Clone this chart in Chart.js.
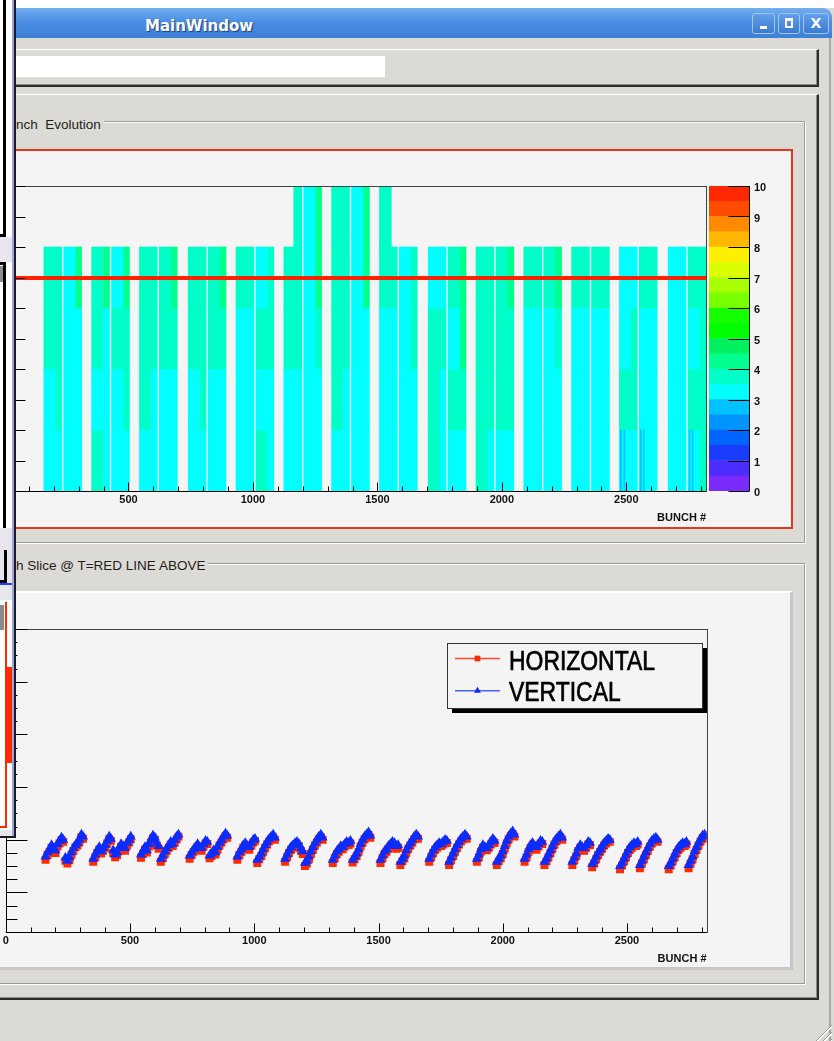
<!DOCTYPE html>
<html>
<head>
<meta charset="utf-8">
<title>MainWindow</title>
<script src="https://cdn.jsdelivr.net/npm/chart.js@4.4.1/dist/chart.umd.min.js"></script>
<style>
  html, body { margin: 0; padding: 0; }
  body { width: 834px; height: 1041px; position: relative; overflow: hidden; background: #dcdad5; font-family: "Liberation Sans", Arial, sans-serif; }
  .abs { position: absolute; box-sizing: border-box; }
  .btn { position: absolute; top: 13px; height: 21px; box-sizing: border-box; border: 1px solid #a4c4ee; border-radius: 3px; background: linear-gradient(#62a0e8, #3b7bd2); }
  .glabel { position: absolute; left: 16px; height: 16px; line-height: 16px; padding-right: 3px; background: #dcdad5; font-size: 13.5px; color: #1e1e1e; white-space: pre; }
  canvas { position: absolute; }
</style>
</head>
<body>

<!-- window decoration -->
<div class="abs" style="left:0;top:0;width:834px;height:8px;background:#fff"></div>
<div class="abs" style="left:0;top:8px;width:832px;height:30px;border-top-right-radius:9px;background:linear-gradient(#72aef0,#4b8fe3 45%,#3d7fd6)"></div>
<div class="abs" style="left:145px;top:17px;line-height:15px;font:bold 15px 'DejaVu Sans';color:#fff;text-shadow:1px 1px 1px #1c3f78">MainWindow</div>
<div class="btn" style="left:752px;width:23px"><div class="abs" style="left:7px;top:12px;width:7px;height:3px;background:#fff"></div></div>
<div class="btn" style="left:778px;width:22px"><div class="abs" style="left:6px;top:4px;width:8px;height:10px;border:2px solid #fff;border-top-width:3px"></div></div>
<div class="btn" style="left:803px;width:26px;text-align:center;font:bold 14px 'DejaVu Sans';line-height:19px;color:#fff">X</div>
<div class="abs" style="left:829px;top:38px;width:2px;height:1003px;background:#a9a7a1"></div>

<!-- tool bar with text entry -->
<div class="abs" style="left:-2px;top:49px;width:821px;height:38px;border-top:1px solid #fff;border-right:2px solid #2c2c2c;border-bottom:2px solid #2c2c2c;box-shadow:inset -1px -1px 0 #8e8c88"></div>
<div class="abs" style="left:0;top:56px;width:385px;height:21px;background:#fff"></div>

<!-- outer frame -->
<div class="abs" style="left:-2px;top:94px;width:821px;height:906px;border-top:1px solid #fff;border-right:2px solid #2c2c2c;border-bottom:2px solid #2c2c2c;box-shadow:inset -1px -1px 0 #8e8c88"></div>

<!-- group 1 -->
<div class="abs" style="left:-2px;top:121px;width:807px;height:422px;border:1px solid #9c9a96;box-shadow:inset 1px 1px 0 #fff,1px 1px 0 #fff"></div>
<div class="glabel" style="top:117px">nch  Evolution</div>
<div class="abs" style="left:-2px;top:149px;width:795px;height:380px;border:2px solid #e5371f;background:#f4f4f4"></div>
<canvas id="evo" width="791" height="376" style="left:0;top:151px"></canvas>
<canvas id="pal" width="80" height="325" style="left:700px;top:176px"></canvas>

<!-- group 2 -->
<div class="abs" style="left:-2px;top:563px;width:807px;height:421px;border:1px solid #9c9a96;box-shadow:inset 1px 1px 0 #fff,1px 1px 0 #fff"></div>
<div class="glabel" style="top:558px">h Slice @ T=RED LINE ABOVE</div>
<div class="abs" style="left:-2px;top:591px;width:795px;height:379px;background:#f4f4f4;border-top:2px solid #fff;border-right:3px solid #c6c6c4;border-bottom:3px solid #c6c6c4"></div>
<canvas id="slice" width="790" height="374" style="left:0;top:593px"></canvas>

<!-- resize grip -->
<div class="abs" style="left:814px;top:1024px;width:18px;height:17px;clip-path:polygon(100% 0,100% 100%,0 100%);background:repeating-linear-gradient(135deg,transparent 0 3px,#9a988f 3px 4px,#fff 4px 5px)"></div>

<!-- other windows overlapping the left edge -->
<div class="abs" style="left:0;top:0;width:16px;height:838px;background:#e6e6ec;z-index:5">
  <div class="abs" style="left:0;top:0;width:12px;height:237px;background:#fff"></div>
  <div class="abs" style="left:3px;top:0;width:3px;height:237px;background:#000"></div>
  <div class="abs" style="left:0;top:234px;width:6px;height:3px;background:#000"></div>
  <div class="abs" style="left:0;top:262px;width:12px;height:266px;background:#fff"></div>
  <div class="abs" style="left:3px;top:262px;width:3px;height:266px;background:#000"></div>
  <div class="abs" style="left:0;top:262px;width:6px;height:3px;background:#000"></div>
  <div class="abs" style="left:0;top:266px;width:3px;height:16px;background:#8c8c8c"></div>
  <div class="abs" style="left:4px;top:550px;width:3px;height:33px;background:#000"></div>
  <div class="abs" style="left:0;top:580px;width:7px;height:3px;background:#000"></div>
  <div class="abs" style="left:0;top:583px;width:12px;height:2px;background:#2040ff"></div>
  <div class="abs" style="left:0;top:600px;width:12px;height:230px;background:#fff"></div>
  <div class="abs" style="left:0;top:605px;width:4px;height:25px;background:#8a8a8a"></div>
  <div class="abs" style="left:5px;top:602px;width:2px;height:226px;background:#ff2a00"></div>
  <div class="abs" style="left:0;top:826px;width:7px;height:2px;background:#ff2a00"></div>
  <div class="abs" style="left:7px;top:667px;width:5px;height:96px;background:#ff2a00"></div>
  <div class="abs" style="left:12px;top:0;width:2px;height:838px;background:#9aa2ea"></div>
  <div class="abs" style="left:14px;top:0;width:2px;height:838px;background:#1c1c1c"></div>
  <div class="abs" style="left:0;top:836px;width:16px;height:2px;background:#1c1c1c"></div>
</div>

<script>
// ---- shared x axis: bunch number ----
const bunchMax = 2820;
const bunchTicks = [0, 500, 1000, 1500, 2000, 2500];
const bunchTickLabels = ['0', '500', '1000', '1500', '2000', '2500'];
const bunchTitle = 'BUNCH #';

// first bunch of every 72-bunch train
const trainStarts = [160, 240, 352, 432, 544, 624, 740, 820, 932, 1012, 1124, 1204, 1316, 1396,
                     1508, 1588, 1704, 1784, 1896, 1976, 2088, 2168, 2280, 2360, 2472, 2552, 2668, 2748];
const trainLength = 72;
const headLength = 48;

// ---- colour palette (z axis) ----
const zEdges = [0, 0.5, 1, 1.5, 2, 2.5, 3, 3.5, 4, 4.5, 5, 5.5, 6, 6.5, 7, 7.5, 8, 8.5, 9, 9.5, 10];
const zTicks = [0, 1, 2, 3, 4, 5, 6, 7, 8, 9, 10];
const paletteColors = ['#7a2cff', '#4b2dff', '#1a3cff', '#0064ff', '#0094ff', '#00c2ff', '#00ffff', '#00ffc8',
                       '#00ff8e', '#00f060', '#00ff00', '#14ff00', '#78ff00', '#a8ff00', '#dcff00', '#fff000',
                       '#ffb800', '#ff8a00', '#ff4c00', '#ff2800'];

// ---- top plot: evolution map, time bins of the y axis ----
const timeBins = [1, 3, 5, 7, 9];
const timeTicks = [0, 1, 2, 3, 4, 5, 6, 7, 8, 9, 10];
const sliceTime = 7;
const C = 3.25, A = 3.75, G = 4.25;
// [head, tail] value of every train, one array per time bin (oldest first)
const evoBin0 = [[C,C],[C,C],[A,C],[C,C],[C,C],[C,C],[C,C],[C,C],[C,C],[A,C],[C,C],[C,C],[C,C],[C,C],
                 [C,C],[C,C],[A,C],[C,C],[A,C],[C,C],[C,C],[C,C],[C,C],[C,C],[C,C],[C,C],[C,C],[C,A]];
const evoBin1 = [[C,A],[C,C],[C,C],[C,A],[A,C],[C,C],[C,A],[C,C],[C,C],[C,C],[C,C],[C,C],[A,C],[C,C],
                 [C,C],[C,C],[A,C],[A,A],[A,A],[A,A],[C,C],[C,C],[C,C],[C,C],[A,A],[C,C],[C,C],[A,A]];
const evoBin2 = [[A,A],[C,C],[A,C],[A,A],[A,A],[A,A],[A,A],[A,A],[C,C],[A,A],[A,A],[C,A],[A,A],[C,C],
                 [C,C],[C,A],[A,A],[C,G],[A,A],[A,A],[C,C],[C,A],[C,C],[C,C],[C,A],[C,C],[C,C],[C,A]];
const evoBin3 = [[A,A],[C,G],[A,G],[C,G],[A,A],[A,G],[A,A],[A,G],[A,A],[C,A],[A,A],[C,G],[A,A],[C,G],
                 [A,A],[C,A],[C,C],[A,G],[A,A],[A,G],[A,A],[A,G],[A,A],[A,A],[C,C],[A,A],[C,C],[A,A]];
// newest bin is only partly filled: [first bunch, last bunch, value]
const evoBin4 = [[1164,1196,A],[1204,1252,C],[1252,1276,G],[1316,1388,A],[1396,1444,C],[1444,1468,G],[1508,1556,A]];
// thin lower streaks in the oldest bin
const evoStreaks = [[2476,2480,2.75],[2490,2494,2.75],[2556,2560,2.75],[2568,2572,2.75],[2752,2756,2.75],[2764,2768,2.75]];

// ---- bottom plot: slice at the red line ----
const sliceMin = -0.75, sliceMax = 5;
const sliceTicks = [0, 1, 2, 3, 4, 5];
const sliceOffsets = [0, 8, 16, 24, 32, 40, 48, 56, 64, 71];
const vertical = [
  [0.68,0.76,0.82,0.90,0.84,0.80,0.92,0.98,1.04,1.00],
  [0.66,0.60,0.66,0.76,0.84,0.90,0.94,1.00,1.10,1.06],
  [0.64,0.72,0.80,0.86,0.78,0.84,0.90,0.98,1.06,1.02],
  [0.80,0.72,0.76,0.84,0.92,0.88,0.84,0.94,1.00,1.06],
  [0.72,0.78,0.86,0.80,0.92,1.00,1.08,1.04,0.94,0.88],
  [0.64,0.70,0.78,0.84,0.90,0.96,0.92,1.00,1.06,1.10],
  [0.70,0.76,0.82,0.86,0.92,0.86,0.84,0.92,0.98,0.96],
  [0.70,0.74,0.80,0.76,0.86,0.94,1.00,1.06,1.12,1.08],
  [0.68,0.76,0.82,0.90,0.94,0.88,0.86,0.94,1.00,1.02],
  [0.62,0.68,0.74,0.82,0.90,0.96,1.02,1.06,1.10,1.04],
  [0.64,0.72,0.80,0.86,0.90,0.94,0.96,0.92,0.84,0.78],
  [0.56,0.60,0.68,0.78,0.86,0.94,1.00,1.06,1.10,1.04],
  [0.62,0.70,0.78,0.82,0.88,0.86,0.92,0.96,0.94,0.98],
  [0.62,0.68,0.74,0.82,0.92,1.00,1.06,1.10,1.14,1.08],
  [0.62,0.70,0.78,0.82,0.88,0.92,0.96,0.94,0.88,0.90],
  [0.58,0.64,0.70,0.80,0.88,0.94,1.00,1.06,1.10,1.06],
  [0.64,0.72,0.80,0.86,0.90,0.94,0.92,0.96,1.00,0.98],
  [0.58,0.66,0.74,0.82,0.90,0.96,1.02,1.06,1.10,1.06],
  [0.64,0.72,0.82,0.90,0.86,0.84,0.90,0.96,1.02,0.98],
  [0.58,0.64,0.70,0.78,0.88,0.98,1.06,1.12,1.16,1.10],
  [0.64,0.72,0.82,0.90,0.94,0.88,0.86,0.92,0.98,0.96],
  [0.58,0.64,0.72,0.80,0.88,0.96,1.02,1.06,1.10,1.04],
  [0.58,0.66,0.74,0.84,0.90,0.86,0.84,0.90,0.96,0.94],
  [0.54,0.60,0.68,0.76,0.82,0.88,0.94,0.98,1.02,1.00],
  [0.50,0.56,0.64,0.72,0.80,0.86,0.90,0.94,0.92,0.96],
  [0.52,0.60,0.68,0.76,0.84,0.92,0.98,1.02,1.04,1.00],
  [0.50,0.56,0.64,0.72,0.80,0.86,0.90,0.94,0.92,0.96],
  [0.52,0.60,0.68,0.78,0.86,0.94,1.02,1.08,1.10,1.06]
];
const horizontal = [
  [0.62,0.71,0.77,0.85,0.80,0.75,0.87,0.93,0.99,0.96],
  [0.60,0.55,0.61,0.71,0.79,0.86,0.89,0.95,1.05,1.02],
  [0.58,0.67,0.75,0.81,0.74,0.79,0.85,0.93,1.01,0.98],
  [0.75,0.67,0.71,0.79,0.87,0.84,0.79,0.89,0.95,1.01],
  [0.66,0.73,0.81,0.76,0.87,0.95,1.03,1.00,0.89,0.83],
  [0.58,0.65,0.73,0.79,0.85,0.91,0.88,0.95,1.01,1.06],
  [0.64,0.71,0.77,0.81,0.87,0.82,0.79,0.87,0.93,0.92],
  [0.65,0.69,0.75,0.72,0.81,0.89,0.95,1.01,1.07,1.04],
  [0.62,0.71,0.77,0.85,0.89,0.84,0.81,0.89,0.95,0.98],
  [0.56,0.63,0.69,0.77,0.85,0.91,0.97,1.01,1.05,1.00],
  [0.58,0.67,0.75,0.81,0.85,0.89,0.91,0.88,0.79,0.73],
  [0.50,0.55,0.63,0.73,0.81,0.89,0.95,1.01,1.05,1.00],
  [0.56,0.65,0.73,0.77,0.83,0.82,0.87,0.91,0.90,0.93],
  [0.57,0.63,0.69,0.77,0.87,0.95,1.01,1.05,1.09,1.04],
  [0.56,0.65,0.73,0.77,0.83,0.87,0.91,0.90,0.83,0.85],
  [0.52,0.59,0.65,0.75,0.83,0.89,0.95,1.01,1.05,1.02],
  [0.58,0.67,0.75,0.81,0.85,0.89,0.88,0.91,0.95,0.94],
  [0.52,0.61,0.69,0.77,0.85,0.91,0.97,1.01,1.05,1.02],
  [0.58,0.67,0.77,0.85,0.81,0.80,0.85,0.91,0.97,0.94],
  [0.52,0.59,0.65,0.73,0.83,0.93,1.01,1.07,1.11,1.06],
  [0.58,0.67,0.77,0.85,0.89,0.84,0.81,0.87,0.93,0.92],
  [0.52,0.59,0.67,0.75,0.83,0.91,0.97,1.01,1.05,1.00],
  [0.52,0.61,0.69,0.79,0.85,0.82,0.79,0.85,0.91,0.90],
  [0.48,0.55,0.63,0.71,0.77,0.83,0.89,0.93,0.97,0.96],
  [0.44,0.51,0.59,0.67,0.75,0.81,0.85,0.89,0.88,0.91],
  [0.46,0.55,0.63,0.71,0.79,0.87,0.93,0.97,0.99,0.96],
  [0.44,0.51,0.59,0.67,0.75,0.81,0.85,0.89,0.88,0.91],
  [0.46,0.55,0.63,0.73,0.81,0.89,0.97,1.03,1.05,1.02]
];

// ---------------------------------------------------------------
function colorFor(v) {
  for (let i = 0; i < paletteColors.length; i++) {
    if (v < zEdges[i + 1]) return paletteColors[i];
  }
  return paletteColors[paletteColors.length - 1];
}

function steps(from, to, step) {
  const out = [];
  for (let v = from; v <= to + 1e-9; v += step) out.push(+v.toFixed(4));
  return out;
}

const labelFont = 'bold 11px "Liberation Sans", Arial, sans-serif';

// ROOT style frame: inward ticks on the left and bottom axes
const rootAxes = {
  id: 'rootAxes',
  afterDatasetsDraw(chart, args, o) {
    const { ctx, chartArea: a } = chart;
    const xs = chart.scales.x, ys = chart.scales.y;
    ctx.save();
    if (o.redLine !== undefined) {
      const y = Math.round(ys.getPixelForValue(o.redLine));
      ctx.fillStyle = '#ff2200';
      ctx.fillRect(a.left, y - 2, a.right - a.left, 4);
    }
    ctx.strokeStyle = '#444';
    ctx.lineWidth = 1;
    ctx.strokeRect(Math.round(a.left) + 0.5, Math.round(a.top) + 0.5,
                   Math.round(a.right - a.left), Math.round(a.bottom - a.top));
    ctx.strokeStyle = '#000';
    const bottom = Math.round(a.bottom) + 0.5, left = Math.round(a.left) + 0.5;
    ctx.beginPath();
    ctx.moveTo(a.left, bottom); ctx.lineTo(a.right, bottom);
    ctx.moveTo(left, a.top); ctx.lineTo(left, a.bottom);
    o.xMinor.forEach(v => { const x = Math.round(xs.getPixelForValue(v)) + 0.5; ctx.moveTo(x, bottom); ctx.lineTo(x, bottom - o.xMinorLen); });
    o.xMajor.forEach(v => { const x = Math.round(xs.getPixelForValue(v)) + 0.5; ctx.moveTo(x, bottom); ctx.lineTo(x, bottom - o.xMajorLen); });
    o.yMinor.forEach(v => { const y = Math.round(ys.getPixelForValue(v)) + 0.5; ctx.moveTo(left, y); ctx.lineTo(left + o.yMinorLen, y); });
    o.yMajor.forEach(v => { const y = Math.round(ys.getPixelForValue(v)) + 0.5; ctx.moveTo(left, y); ctx.lineTo(left + o.yMajorLen, y); });
    ctx.stroke();
    ctx.fillStyle = '#111';
    ctx.font = labelFont;
    ctx.textAlign = 'center';
    ctx.textBaseline = 'middle';
    o.xMajor.forEach((v, i) => ctx.fillText(o.xLabels[i], xs.getPixelForValue(v), a.bottom + 9));
    ctx.textAlign = 'right';
    ctx.fillText(o.xTitle, a.right, a.bottom + 26.5);
    ctx.restore();
  }
};

// colour bar axis on its right side
const paletteAxis = {
  id: 'paletteAxis',
  afterDatasetsDraw(chart, args, o) {
    const { ctx, chartArea: a } = chart;
    const ys = chart.scales.y;
    const right = Math.round(a.right) + 0.5;
    ctx.save();
    ctx.strokeStyle = '#000';
    ctx.lineWidth = 1;
    ctx.beginPath();
    ctx.moveTo(right, a.top); ctx.lineTo(right, a.bottom);
    o.ticks.forEach(v => { const y = Math.round(ys.getPixelForValue(v)) + 0.5; ctx.moveTo(right, y); ctx.lineTo(right - o.tickLen, y); });
    ctx.stroke();
    ctx.fillStyle = '#111';
    ctx.font = labelFont;
    ctx.textAlign = 'left';
    ctx.textBaseline = 'middle';
    o.ticks.forEach(v => ctx.fillText(String(v), a.right + 5, ys.getPixelForValue(v) + 2));
    ctx.restore();
  }
};

// ROOT TLegend look: framed box with a drop shadow
const rootLegend = {
  id: 'rootLegend',
  afterDraw(chart, args, o) {
    const { ctx } = chart;
    const b = o.box;
    ctx.save();
    ctx.fillStyle = '#000';
    ctx.fillRect(b.x + o.shadow, b.y + o.shadow, b.w, b.h);
    ctx.fillStyle = '#f4f4f4';
    ctx.fillRect(b.x, b.y, b.w, b.h);
    ctx.strokeStyle = '#333';
    ctx.lineWidth = 1;
    ctx.strokeRect(b.x + 0.5, b.y + 0.5, b.w, b.h);
    ctx.font = o.font;
    const sx = o.textWidth / ctx.measureText(chart.data.datasets[0].label).width;
    chart.data.datasets.forEach((ds, i) => {
      const row = o.rows[i];
      ctx.strokeStyle = o.lineColors[i];
      ctx.lineWidth = 1.5;
      ctx.beginPath();
      ctx.moveTo(o.lineX[0], row.line); ctx.lineTo(o.lineX[1], row.line);
      ctx.stroke();
      ctx.fillStyle = ds.backgroundColor;
      Chart.helpers.drawPoint(ctx, { pointStyle: ds.pointStyle, radius: o.markerRadius, rotation: 0, borderWidth: 0 },
                              (o.lineX[0] + o.lineX[1]) / 2, row.line);
      ctx.fillStyle = '#000';
      ctx.strokeStyle = '#000';
      ctx.lineWidth = 0.7;
      ctx.textBaseline = 'alphabetic';
      ctx.save();
      ctx.translate(o.textX, row.text);
      ctx.scale(sx, 1);
      ctx.fillText(ds.label, 0, 0);
      ctx.strokeText(ds.label, 0, 0);
      ctx.restore();
    });
    ctx.restore();
  }
};

const quiet = { legend: { display: false }, tooltip: { enabled: false } };

// ---- top: evolution map as horizontal floating bars ----
const evoBins = [evoBin0, evoBin1, evoBin2, evoBin3];
const cells = [];
evoBins.forEach((bin, b) => {
  bin.forEach(([head, tail], t) => {
    const s = trainStarts[t];
    cells.push({ x: [s, s + headLength], y: timeBins[b], v: head });
    cells.push({ x: [s + headLength, s + trainLength], y: timeBins[b], v: tail });
  });
});
evoBin4.forEach(([s, e, v]) => cells.push({ x: [s, e], y: timeBins[4], v }));
evoStreaks.forEach(([s, e, v]) => cells.push({ x: [s, e], y: timeBins[0], v }));

new Chart(document.getElementById('evo'), {
  type: 'bar',
  data: {
    datasets: [{
      data: cells,
      backgroundColor: c => colorFor(c.raw ? c.raw.v : 0),
      borderWidth: 0,
      barPercentage: 1,
      categoryPercentage: 1
    }]
  },
  options: {
    indexAxis: 'y',
    responsive: false,
    animation: false,
    devicePixelRatio: 1,
    layout: { padding: { left: 4, top: 35, right: 85, bottom: 36 } },
    scales: {
      x: { type: 'linear', min: 0, max: bunchMax, display: false },
      y: { type: 'linear', min: 0, max: 10, offset: false, display: false, ticks: { stepSize: 2 } }
    },
    plugins: {
      ...quiet,
      rootAxes: {
        redLine: sliceTime,
        xMajor: bunchTicks, xLabels: bunchTickLabels, xTitle: bunchTitle, xMinor: steps(0, 2800, 100),
        xMajorLen: 9, xMinorLen: 5,
        yMajor: timeTicks, yMinor: steps(0, 10, 0.2), yMajorLen: 21, yMinorLen: 11
      }
    }
  },
  plugins: [rootAxes]
});

// ---- colour bar ----
new Chart(document.getElementById('pal'), {
  type: 'bar',
  data: {
    labels: [''],
    datasets: paletteColors.map((c, i) => ({
      data: [[zEdges[i], zEdges[i + 1]]],
      backgroundColor: c,
      borderWidth: 0,
      grouped: false,
      barPercentage: 1,
      categoryPercentage: 1
    }))
  },
  options: {
    responsive: false,
    animation: false,
    devicePixelRatio: 1,
    layout: { padding: { left: 9, top: 10, right: 31, bottom: 10 } },
    scales: {
      x: { display: false },
      y: { type: 'linear', min: 0, max: 10, display: false }
    },
    plugins: { ...quiet, paletteAxis: { ticks: zTicks, tickLen: 21 } }
  },
  plugins: [paletteAxis]
});

// ---- bottom: slice ----
const toPoints = rows => rows.flatMap((row, t) => row.map((v, k) => ({ x: trainStarts[t] + sliceOffsets[k], y: v })));

new Chart(document.getElementById('slice'), {
  type: 'scatter',
  data: {
    datasets: [
      { label: 'HORIZONTAL', data: toPoints(horizontal), pointStyle: 'rect', pointRadius: 5.6,
        backgroundColor: '#ff2a00', pointBorderWidth: 0, order: 2 },
      { label: 'VERTICAL', data: toPoints(vertical), pointStyle: 'triangle', pointRadius: 5.8,
        backgroundColor: '#0a2cff', pointBorderWidth: 0, order: 1 }
    ]
  },
  options: {
    responsive: false,
    animation: false,
    devicePixelRatio: 1,
    layout: { padding: { left: 4.5, top: 36, right: 83.5, bottom: 35 } },
    scales: {
      x: { type: 'linear', min: 0, max: bunchMax, display: false },
      y: { type: 'linear', min: sliceMin, max: sliceMax, display: false }
    },
    plugins: {
      ...quiet,
      rootAxes: {
        xMajor: bunchTicks, xLabels: bunchTickLabels, xTitle: bunchTitle, xMinor: steps(0, 2800, 100),
        xMajorLen: 9, xMinorLen: 5,
        yMajor: sliceTicks, yMinor: steps(-0.75, 5, 0.25), yMajorLen: 21, yMinorLen: 11
      },
      rootLegend: {
        box: { x: 447, y: 50, w: 255, h: 65 }, shadow: 5,
        font: '27px "Liberation Sans Narrow", "Liberation Sans", Arial, sans-serif', textWidth: 146,
        lineX: [455, 500], lineColors: ['#ff4a30', '#4a60ff'], markerRadius: 4,
        textX: 509, rows: [{ line: 65.5, text: 76.5 }, { line: 97.7, text: 107.8 }]
      }
    }
  },
  plugins: [rootAxes, rootLegend]
});
</script>
</body>
</html>
